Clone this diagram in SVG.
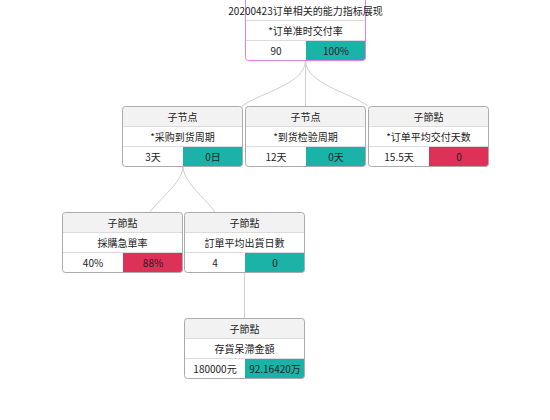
<svg xmlns="http://www.w3.org/2000/svg" width="550" height="420" viewBox="0 0 550 420">
<style>
text{font-family:"Noto Sans CJK SC","Liberation Sans",sans-serif;font-size:10px;fill:#222;text-anchor:middle}
.bg{fill:#fff}
.hd{fill:#f2f2f2}
.ok{fill:#1bb3a8}
.bad{fill:#de3158}
.div{stroke:#dcdcdc;stroke-width:1;fill:none}
.box{fill:none;stroke:#ababab;stroke-width:1}
.rootbox{fill:none;stroke:#e580e8;stroke-width:1}
.conn path{fill:none;stroke:#cfcfcf;stroke-width:1}
</style>
<defs>
<path id="hdr" d="M0.5,20.5 V3.5 Q0.5,0.5 3.5,0.5 H117.5 Q120.5,0.5 120.5,3.5 V20.5 Z"/>
<path id="cell" d="M61,40.5 H120.5 V57.5 Q120.5,60.5 117.5,60.5 H61 Z"/>
</defs>
<g id="connectors" class="conn">
<path d="M305.5,60 C305.5,84 262,92 242,106"/>
<path d="M305.5,60 V106"/>
<path d="M305.5,60 C305.5,84 349,92 368,106"/>
<path d="M183,166 C183,182 160,198 150,212"/>
<path d="M183,166 C183,182 205,198 215,212"/>
<path d="M244.5,272 V318"/>
</g>
<g id="root">
<rect x="245.5" y="-5" width="120" height="65.5" rx="3" class="bg"/>
<path d="M306,40.5 H365.5 V57.5 Q365.5,60.5 362.5,60.5 H306 Z" class="ok"/>
<path d="M245.5,20.5 H365.5 M245.5,40.5 H365.5" class="div"/>
<rect x="245.5" y="-5" width="120" height="65.5" rx="3" class="rootbox"/>
<text x="305.5" y="15">20200423订单相关的能力指标展现</text>
<text x="305.5" y="34.5">*订单准时交付率</text>
<text x="276" y="54.5">90</text>
<text x="336" y="54.5">100%</text>
</g>
<g id="nodeA" transform="translate(122,106)">
<rect x="0.5" y="0.5" width="120" height="60" rx="3" class="bg"/>
<use href="#hdr" class="hd"/><use href="#cell" class="ok"/>
<path d="M0.5,20.5 H120.5 M0.5,40.5 H120.5" class="div"/>
<rect x="0.5" y="0.5" width="120" height="60" rx="3" class="box"/>
<text x="60.5" y="14.5">子节点</text>
<text x="60.5" y="34.5">*采购到货周期</text>
<text x="31" y="54.5">3天</text>
<text x="91" y="54.5">0日</text>
</g>
<g id="nodeB" transform="translate(245,106)">
<rect x="0.5" y="0.5" width="120" height="60" rx="3" class="bg"/>
<use href="#hdr" class="hd"/><use href="#cell" class="ok"/>
<path d="M0.5,20.5 H120.5 M0.5,40.5 H120.5" class="div"/>
<rect x="0.5" y="0.5" width="120" height="60" rx="3" class="box"/>
<text x="60.5" y="14.5">子节点</text>
<text x="60.5" y="34.5">*到货检验周期</text>
<text x="31" y="54.5">12天</text>
<text x="91" y="54.5">0天</text>
</g>
<g id="nodeC" transform="translate(368,106)">
<rect x="0.5" y="0.5" width="120" height="60" rx="3" class="bg"/>
<use href="#hdr" class="hd"/><use href="#cell" class="bad"/>
<path d="M0.5,20.5 H120.5 M0.5,40.5 H120.5" class="div"/>
<rect x="0.5" y="0.5" width="120" height="60" rx="3" class="box"/>
<text x="60.5" y="14.5">子節點</text>
<text x="60.5" y="34.5">*订单平均交付天数</text>
<text x="31" y="54.5">15.5天</text>
<text x="91" y="54.5">0</text>
</g>
<g id="nodeD" transform="translate(62,212)">
<rect x="0.5" y="0.5" width="120" height="60" rx="3" class="bg"/>
<use href="#hdr" class="hd"/><use href="#cell" class="bad"/>
<path d="M0.5,20.5 H120.5 M0.5,40.5 H120.5" class="div"/>
<rect x="0.5" y="0.5" width="120" height="60" rx="3" class="box"/>
<text x="60.5" y="14.5">子節點</text>
<text x="60.5" y="34.5">採購急單率</text>
<text x="31" y="54.5">40%</text>
<text x="91" y="54.5">88%</text>
</g>
<g id="nodeE" transform="translate(184,212)">
<rect x="0.5" y="0.5" width="120" height="60" rx="3" class="bg"/>
<use href="#hdr" class="hd"/><use href="#cell" class="ok"/>
<path d="M0.5,20.5 H120.5 M0.5,40.5 H120.5" class="div"/>
<rect x="0.5" y="0.5" width="120" height="60" rx="3" class="box"/>
<text x="60.5" y="14.5">子節點</text>
<text x="60.5" y="34.5">訂單平均出貨日數</text>
<text x="31" y="54.5">4</text>
<text x="91" y="54.5">0</text>
</g>
<g id="nodeF" transform="translate(184,318)">
<rect x="0.5" y="0.5" width="120" height="60" rx="3" class="bg"/>
<use href="#hdr" class="hd"/><use href="#cell" class="ok"/>
<path d="M0.5,20.5 H120.5 M0.5,40.5 H120.5" class="div"/>
<rect x="0.5" y="0.5" width="120" height="60" rx="3" class="box"/>
<text x="60.5" y="14.5">子節點</text>
<text x="60.5" y="34.5">存貨呆滯金額</text>
<text x="31" y="54.5">180000元</text>
<text x="91" y="54.5">92.16420万</text>
</g>
</svg>
